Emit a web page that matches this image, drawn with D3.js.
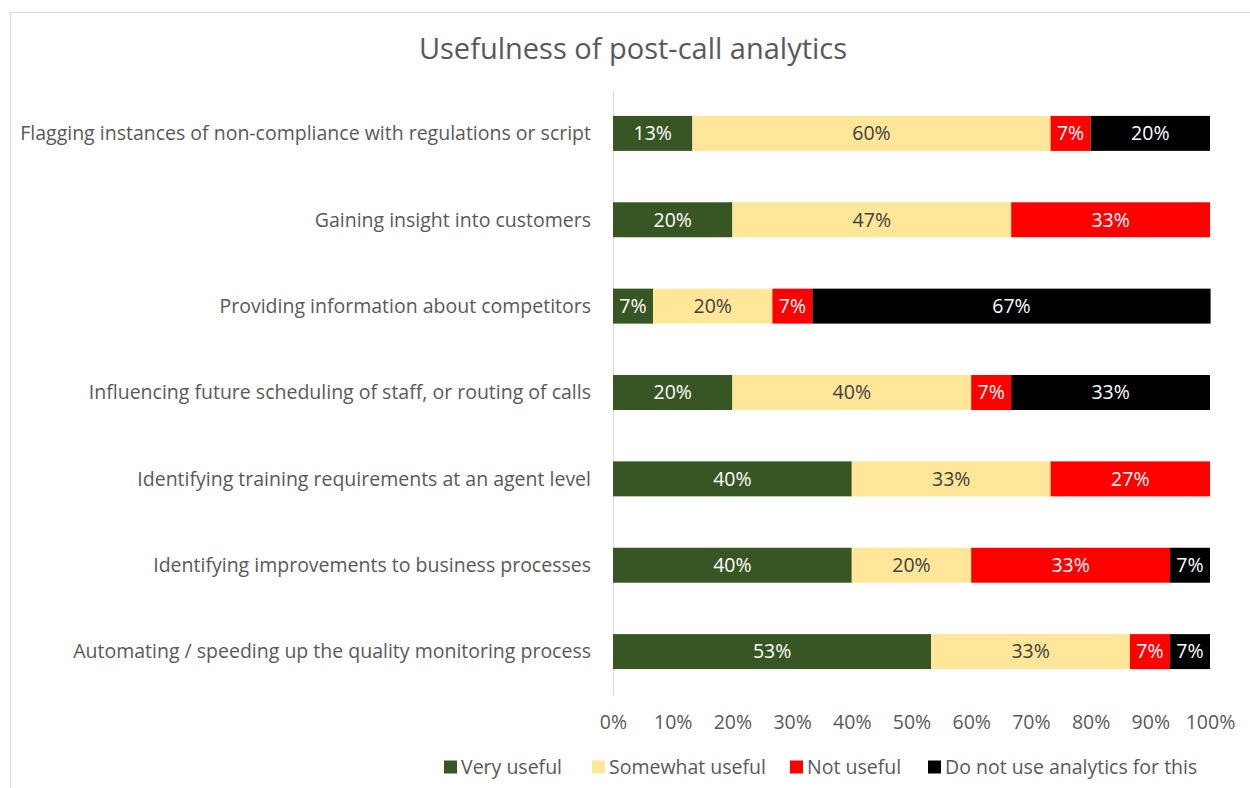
<!DOCTYPE html>
<html>
<head>
<meta charset="utf-8">
<script src="https://cdn.jsdelivr.net/npm/d3@7/dist/d3.min.js"></script>
<style>
  body { margin: 0; background: #fff; }
  svg { display: block; font-family: "Open Sans", sans-serif; }
</style>
</head>
<body>
<svg id="chart"></svg>
<script>
const categories = [
  "Flagging instances of non-compliance with regulations or script",
  "Gaining insight into customers",
  "Providing information about competitors",
  "Influencing future scheduling of staff, or routing of calls",
  "Identifying training requirements at an agent level",
  "Identifying improvements to business processes",
  "Automating / speeding up the quality monitoring process"
];
const seriesNames = ["Very useful", "Somewhat useful", "Not useful", "Do not use analytics for this"];
const veryUseful = [13.3, 20, 6.7, 20, 40, 40, 53.3];
const somewhatUseful = [60, 46.7, 20, 40, 33.3, 20, 33.3];
const notUseful = [6.7, 33.3, 6.7, 6.7, 26.7, 33.3, 6.7];
const doNotUse = [20, 0, 66.7, 33.3, 0, 6.7, 6.7];
const tickValues = [0, 10, 20, 30, 40, 50, 60, 70, 80, 90, 100];

const colors = ["#375623", "#FFE699", "#FF0000", "#000000"];
const labelColors = ["#ffffff", "#404040", "#ffffff", "#ffffff"];

const width = 1250, height = 788;
const margin = { left: 613, right: 40, top: 90, bottom: 93 };
const fontSize = 19.5;

const svg = d3.select("#chart").attr("width", width).attr("height", height);

// chart frame
svg.append("rect")
  .attr("x", 10.5).attr("y", 12.5)
  .attr("width", width + 20).attr("height", height + 20)
  .attr("fill", "#fff").attr("stroke", "#d9d9d9").attr("stroke-width", 1);

svg.append("text")
  .attr("x", 633).attr("y", 59)
  .attr("text-anchor", "middle")
  .attr("font-size", 29)
  .attr("fill", "#595959")
  .text("Usefulness of post-call analytics");

const rows = categories.map((c, i) => ({
  cat: c,
  "Very useful": veryUseful[i],
  "Somewhat useful": somewhatUseful[i],
  "Not useful": notUseful[i],
  "Do not use analytics for this": doNotUse[i]
}));

const stacked = d3.stack().keys(seriesNames)(rows);

const x = d3.scaleLinear().domain([0, 100]).range([margin.left, 1210]);
const y = d3.scaleBand().domain(categories)
  .range([margin.top, height - margin.bottom])
  .paddingInner(0.595).paddingOuter(0.3);

// vertical axis line
svg.append("line")
  .attr("x1", x(0) + 0.5).attr("x2", x(0) + 0.5)
  .attr("y1", margin.top).attr("y2", height - margin.bottom)
  .attr("stroke", "#d9d9d9");

const groups = svg.selectAll("g.series")
  .data(stacked)
  .join("g")
  .attr("class", "series")
  .attr("fill", (d, i) => colors[i]);

groups.selectAll("rect")
  .data(d => d.filter(s => s[1] - s[0] > 0))
  .join("rect")
  .attr("x", s => x(s[0]))
  .attr("y", s => y(s.data.cat))
  .attr("width", s => x(s[1]) - x(s[0]))
  .attr("height", y.bandwidth());

groups.each(function (d, i) {
  d3.select(this).selectAll("text")
    .data(d.filter(s => s[1] - s[0] > 0))
    .join("text")
    .attr("x", s => (x(s[0]) + x(s[1])) / 2)
    .attr("y", s => y(s.data.cat) + y.bandwidth() / 2)
    .attr("dy", "0.35em")
    .attr("text-anchor", "middle")
    .attr("font-size", fontSize)
    .attr("fill", labelColors[i])
    .text(s => Math.round(s[1] - s[0]) + "%");
});

// category labels
svg.selectAll("text.cat")
  .data(categories)
  .join("text")
  .attr("class", "cat")
  .attr("x", 591)
  .attr("y", c => y(c) + y.bandwidth() / 2)
  .attr("dy", "0.35em")
  .attr("text-anchor", "end")
  .attr("font-size", fontSize)
  .attr("fill", "#595959")
  .text(c => c);

// x tick labels
const xAxis = svg.append("g")
  .attr("transform", `translate(0,${height - margin.bottom})`)
  .call(d3.axisBottom(x).tickValues(tickValues).tickFormat(d => d + "%").tickSize(0).tickPadding(20));
xAxis.select(".domain").remove();
xAxis.selectAll("text")
  .attr("font-family", "Open Sans, sans-serif")
  .attr("font-size", fontSize)
  .attr("fill", "#595959");

// legend
const legendX = [444, 592, 790, 928];
const legend = svg.selectAll("g.legend")
  .data(seriesNames)
  .join("g")
  .attr("class", "legend")
  .attr("transform", (d, i) => `translate(${legendX[i]},767)`);
legend.append("rect")
  .attr("x", 0).attr("y", -6.5)
  .attr("width", 13).attr("height", 13)
  .attr("fill", (d, i) => colors[i]);
legend.append("text")
  .attr("x", 17).attr("dy", "0.35em")
  .attr("font-size", fontSize)
  .attr("fill", "#595959")
  .text(d => d);
</script>
</body>
</html>
